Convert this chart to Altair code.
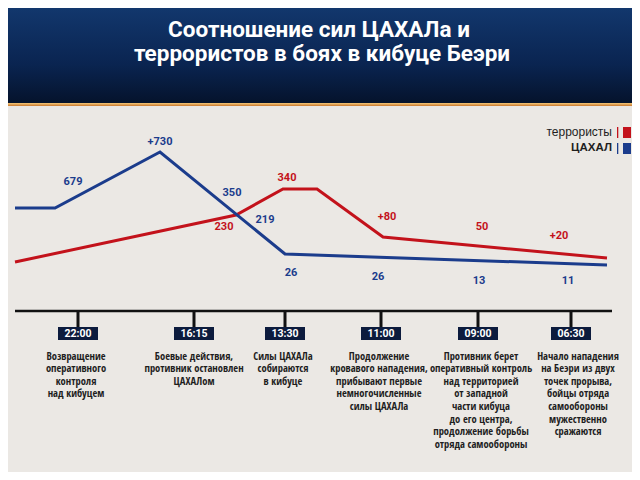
import altair as alt
import pandas as pd

W, H = 624, 464  # plot area; with the 8px page margin the page is exactly 640x480

# Line series (timeline position, vertical level)
blue_pos = [15, 55, 160, 285, 607]
blue_lvl = [208, 208, 152, 254, 265]
red_pos = [15, 236, 283, 317, 383, 607]
red_lvl = [262, 215, 189, 189, 237, 258]

# Value labels
blue_labels = ["679", "+730", "350", "219", "26", "26", "13", "11"]
blue_label_pos = [73, 160, 232, 265, 291, 378, 479, 568]
blue_label_lvl = [182, 142, 193, 220, 273, 277, 281, 281]
red_labels = ["340", "230", "+80", "50", "+20"]
red_label_pos = [287, 224, 387, 482, 559]
red_label_lvl = [178, 227, 217, 227, 236]

# Timeline
times = ["22:00", "16:15", "13:30", "11:00", "09:00", "06:30"]
time_pos = [78, 194, 285, 381, 478, 571]
note_pos = [76, 194, 283, 379, 481, 578]
notes = [
    ["Возвращение", "оперативного", "контроля", "над кибуцем"],
    ["Боевые действия,", "противник остановлен", "ЦАХАЛом"],
    ["Силы ЦАХАЛа", "собираются", "в кибуце"],
    ["Продолжение", "кровавого нападения,", "прибывают первые", "немногочисленные", "силы ЦАХАЛа"],
    ["Противник берет", "оперативный контроль", "над территорией", "от западной",
     "части кибуца", "до его центра,", "продолжение борьбы", "отряда самообороны"],
    ["Начало нападения", "на Беэри из двух", "точек прорыва,", "бойцы отряда",
     "самообороны", "мужественно", "сражаются"],
]
title_lines = ["Соотношение сил ЦАХАЛа и", "террористов в боях в кибуце Беэри"]
legend_names = ["террористы", "ЦАХАЛ"]

BLUE = "#1b3c8c"
RED = "#c3121b"
NAVY = "#0c1b3d"
TEXT = "#1e1e1e"
NARROW = "Open Sans Condensed, Roboto Condensed, sans-serif"

xs = alt.Scale(domain=[8, 632], nice=False, zero=False)
ys = alt.Scale(domain=[8, 472], reverse=True, nice=False, zero=False)


def X(f="pos"):
    return alt.X(f"{f}:Q", scale=xs, axis=None)


def Y(f="lvl"):
    return alt.Y(f"{f}:Q", scale=ys, axis=None)


one = pd.DataFrame({"pos": [8], "pos2": [632], "lvl": [8], "lvl2": [103], "s1": [103], "s2": [106]})

header = alt.Chart(one).mark_rect(
    color=alt.Gradient(
        gradient="linear",
        stops=[alt.GradientStop(offset=0, color="#12376d"),
               alt.GradientStop(offset=0.6, color="#0a2450"),
               alt.GradientStop(offset=1, color="#05132c")],
        x1=0, x2=0, y1=0, y2=1,
    )
).encode(x=X(), x2="pos2:Q", y=Y(), y2="lvl2:Q")

stripe = alt.Chart(one).mark_rect(
    color=alt.Gradient(
        gradient="linear",
        stops=[alt.GradientStop(offset=0, color="#f6c97a"),
               alt.GradientStop(offset=1, color="#c9792e")],
        x1=0, x2=0, y1=0, y2=1,
    )
).encode(x=X(), x2="pos2:Q", y=Y("s1"), y2="s2:Q")

title_df = pd.DataFrame({"t": title_lines, "pos": [319, 322], "lvl": [37, 61]})
title = alt.Chart(title_df).mark_text(
    font="Roboto", fontWeight="bold", fontSize=22.5, color="white", align="center", baseline="alphabetic"
).encode(x=X(), y=Y(), text="t:N")

blue_df = pd.DataFrame({"pos": blue_pos, "lvl": blue_lvl, "o": list(range(len(blue_pos)))})
red_df = pd.DataFrame({"pos": red_pos, "lvl": red_lvl, "o": list(range(len(red_pos)))})

blue_line = alt.Chart(blue_df).mark_line(color=BLUE, strokeWidth=3, strokeJoin="miter").encode(
    x=X(), y=Y(), order="o:Q")
red_line = alt.Chart(red_df).mark_line(color=RED, strokeWidth=3, strokeJoin="miter").encode(
    x=X(), y=Y(), order="o:Q")

blue_lab = alt.Chart(pd.DataFrame({"t": blue_labels, "pos": blue_label_pos, "lvl": blue_label_lvl})).mark_text(
    font="Roboto", fontWeight="bold", fontSize=11, color=BLUE, align="center", baseline="middle"
).encode(x=X(), y=Y(), text="t:N")
red_lab = alt.Chart(pd.DataFrame({"t": red_labels, "pos": red_label_pos, "lvl": red_label_lvl})).mark_text(
    font="Roboto", fontWeight="bold", fontSize=11, color=RED, align="center", baseline="middle"
).encode(x=X(), y=Y(), text="t:N")

# Legend
leg1 = alt.Chart(pd.DataFrame({"t": [legend_names[0]], "pos": [612], "lvl": [132]})).mark_text(
    font="Liberation Sans, Arial, sans-serif", fontSize=12, color=TEXT, align="right", baseline="middle"
).encode(x=X(), y=Y(), text="t:N")
leg2 = alt.Chart(pd.DataFrame({"t": [legend_names[1]], "pos": [612], "lvl": [148]})).mark_text(
    font="Liberation Sans, Arial, sans-serif", fontSize=11.5, fontWeight="bold", color=TEXT,
    align="right", baseline="middle"
).encode(x=X(), y=Y(), text="t:N")
sw_df = pd.DataFrame({"name": legend_names, "lvl": [127, 143], "lvl2": [138, 154],
                      "a": [617, 617], "b": [618.3, 618.3], "c1": [623, 623], "c2": [631, 631],
                      "col": [RED, BLUE]})
sw_thin = alt.Chart(sw_df).mark_rect().encode(
    x=X("a"), x2="b:Q", y=Y(), y2="lvl2:Q", color=alt.Color("col:N", scale=None))
sw_thick = alt.Chart(sw_df).mark_rect().encode(
    x=X("c1"), x2="c2:Q", y=Y(), y2="lvl2:Q", color=alt.Color("col:N", scale=None))

# Timeline axis
tl = alt.Chart(pd.DataFrame({"pos": [15], "pos2": [612], "lvl": [311]})).mark_rule(
    color="#111111", strokeWidth=2.5
).encode(x=X(), x2="pos2:Q", y=Y())

tdf = pd.DataFrame({"t": times, "pos": time_pos, "npos": note_pos})
tdf["note"] = notes
tdf["t0"] = 311
tdf["t1"] = 327
tdf["b0"] = 327
tdf["b1"] = 340
tdf["bm"] = 333.5
tdf["n0"] = 359.5

ticks = alt.Chart(tdf).mark_rule(color="#111111", strokeWidth=3).encode(
    x=X(), y=Y("t0"), y2="t1:Q")
boxes = alt.Chart(tdf).transform_calculate(a="datum.pos - 20", b="datum.pos + 20").mark_rect(
    color=NAVY).encode(x=X("a"), x2="b:Q", y=Y("b0"), y2="b1:Q")
box_text = alt.Chart(tdf).mark_text(
    font="Roboto", fontWeight="bold", fontSize=10.5, color="white", align="center", baseline="middle"
).encode(x=X(), y=Y("bm"), text="t:N")
note_text = alt.Chart(tdf).mark_text(
    font=NARROW, fontWeight="bold", fontSize=10.5, color=TEXT, align="center",
    baseline="alphabetic", lineHeight=12.6
).encode(x=X("npos"), y=Y("n0"), text="note:N")

chart = alt.layer(
    header, stripe, title,
    tl, ticks, boxes, box_text, note_text,
    red_line, blue_line, blue_lab, red_lab,
    leg1, leg2, sw_thin, sw_thick,
).properties(width=W, height=H, padding=0, background="#ebe8e4").configure_view(strokeWidth=0)

chart.save("out.html", embed_options={"renderer": "svg", "actions": False})
